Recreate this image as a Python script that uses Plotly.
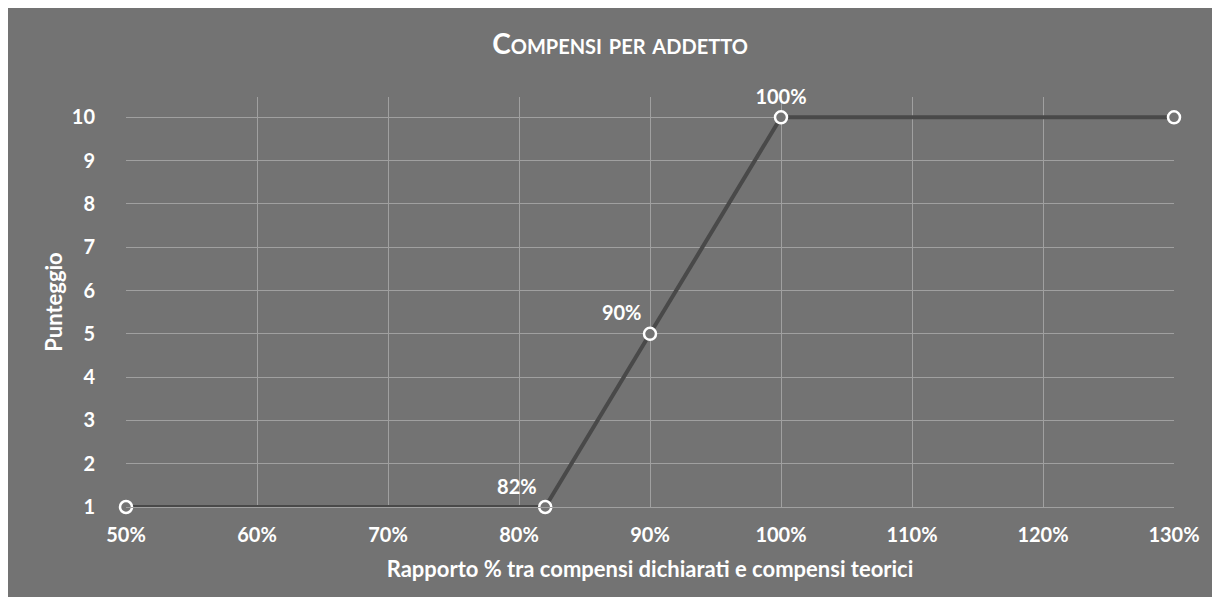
import plotly.graph_objects as go

# rapporto compensi dichiarati / teorici -> punteggio
rapporto = [0.50, 0.82, 0.90, 1.00, 1.30]
punteggio = [1, 1, 5, 10, 10]
etichette = ["", "82%", "90%", "100%", ""]
posizioni = ["top center", "top left", "top left", "top center", "top center"]

BG = "#737373"
GRID = "#a0a0a0"
FONT = "Lato, 'Open Sans', sans-serif"

fig = go.Figure()
fig.add_trace(go.Scatter(
    x=rapporto,
    y=punteggio,
    mode="lines+markers+text",
    text=etichette,
    textposition=posizioni,
    textfont=dict(family=FONT, size=20, color="white", weight="bold"),
    line=dict(color="#494949", width=4),
    marker=dict(symbol="circle", size=12, color=BG, line=dict(color="white", width=2.5)),
    cliponaxis=False,
    showlegend=False,
    hovertemplate="%{x:.0%}: %{y}<extra></extra>",
))

fig.update_layout(
    width=1212,
    height=589,
    paper_bgcolor=BG,
    plot_bgcolor=BG,
    margin=dict(l=118, r=46, t=89, b=90),
    title=dict(
        text="Compensi per addetto",
        x=0.505, xanchor="center", y=0.939, yanchor="middle",
        font=dict(family=FONT, size=28, color="white", weight="bold", variant="small-caps"),
    ),
    font=dict(family=FONT, color="white"),
    xaxis=dict(
        range=[0.5, 1.3],
        dtick=0.1,
        tickformat=".0%",
        showgrid=True,
        gridcolor=GRID,
        gridwidth=1,
        zeroline=False,
        showline=True,
        linecolor=GRID,
        linewidth=1,
        ticks="outside",
        ticklen=10,
        tickcolor="rgba(0,0,0,0)",
        tickfont=dict(family=FONT, size=20, color="white", weight="bold"),
        title=dict(text="Rapporto % tra compensi dichiarati e compensi teorici",
                   font=dict(family=FONT, size=22, color="white", weight="bold"),
                   standoff=16),
    ),
    yaxis=dict(
        range=[1, 10.47],
        dtick=1,
        tick0=1,
        showgrid=True,
        gridcolor=GRID,
        gridwidth=1,
        zeroline=False,
        showline=False,
        ticks="outside",
        ticklen=26,
        tickcolor="rgba(0,0,0,0)",
        tickfont=dict(family=FONT, size=20, color="white", weight="bold"),
        title=dict(text="Punteggio",
                   font=dict(family=FONT, size=22, color="white", weight="bold"),
                   standoff=3),
    ),
)

fig.write_html("out.html")
